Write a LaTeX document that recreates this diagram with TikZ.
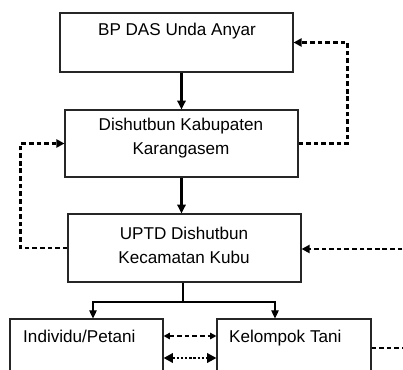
\documentclass[tikz,border=0pt]{standalone}
\usepackage{fontspec}
\setmainfont{Liberation Sans}
\usetikzlibrary{arrows.meta,calc}
\newcommand{\FT}{\fontsize{14.6}{20.5}\selectfont}

\begin{document}
\begin{tikzpicture}[x=0.03cm,y=-0.03cm]
\tikzstyle{kotak}=[draw=black!85,line width=0.9pt,fill=white,inner sep=0pt]
\tikzstyle{teks}=[draw=none,fill=none,black,font=\FT,align=center,inner sep=0pt]
\tikzstyle{garis}=[line width=1.8pt,-{Triangle[length=7.5pt,width=7pt]}]
\tikzstyle{cabang}=[line width=0.9pt]
\tikzstyle{putus}=[line width=1.8pt,dash pattern=on 4pt off 2.5pt]
\tikzstyle{titik}=[line width=2.2pt,dash pattern=on 2pt off 1.6pt]

\useasboundingbox (0,0) rectangle (403,369);
\clip (0,0) rectangle (403,369);

% kotak
\node[kotak,minimum width=6.99cm,minimum height=1.77cm] (bp) at (176.5,42.5) {};
\node[kotak,minimum width=6.99cm,minimum height=2.01cm] (dk) at (181.5,143.5) {};
\node[kotak,minimum width=6.99cm,minimum height=2.04cm] (up) at (184.5,248) {};
\node[kotak,minimum width=4.59cm,minimum height=2.43cm] (ind) at (86.5,359.5) {};
\node[kotak,minimum width=4.62cm,minimum height=2.43cm] (kel) at (294,359.5) {};

% teks
\node[teks,anchor=base] (tbp) at (177,36) {BP DAS Unda Anyar};
\node[teks] (tdk) at (181,138.5) {Dishutbun Kabupaten\\Karangasem};
\node[teks] (tup) at (184,245) {UPTD Dishutbun\\Kecamatan Kubu};
\node[teks,anchor=base west] (tind) at (23,342) {Individu/Petani};
\node[teks,anchor=base west] (tkel) at (229,342) {Kelompok Tani};

% garis komando
\draw[garis] (bp.south -| dk.north) -- (dk.north);
\draw[garis] (dk.south) -- (dk.south |- up.north);

\coordinate (bagi) at (183,302);
\draw[cabang] (up.south -| bagi) -- (bagi);
\draw[cabang,-{Triangle[length=7pt,width=6.5pt]}] (bagi) -| ($(ind.north)+(6.5,0)$);
\draw[cabang,-{Triangle[length=7pt,width=6.5pt]}] (bagi) -| ($(kel.north)+(-19,0)$);

% garis koordinasi
\draw[putus,-{Triangle[length=7pt,width=7pt]}] (dk.east) -- ++(49,0) |- (bp.east);
\draw[putus,-{Triangle[length=7pt,width=7pt]}] (up.west) -- ++(-47,0) |- (dk.west);

\coordinate (luar1) at (410,249);
\draw[putus,-{Triangle[length=7pt,width=7pt]}] (luar1) -- (up.east |- luar1);
\coordinate (luar2) at (410,348);
\draw[putus] (kel.east |- luar2) -- (luar2);

\coordinate (jalur1) at (190,336);
\coordinate (jalur2) at (190,358);
\draw[putus,{Triangle[length=5.5pt,width=5.5pt]}-{Triangle[length=5.5pt,width=5.5pt]}] (ind.east |- jalur1) -- (kel.west |- jalur1);
\draw[titik,{Triangle[length=8pt,width=8pt]}-{Triangle[length=8pt,width=8pt]}] (ind.east |- jalur2) -- (kel.west |- jalur2);
\end{tikzpicture}
\end{document}
